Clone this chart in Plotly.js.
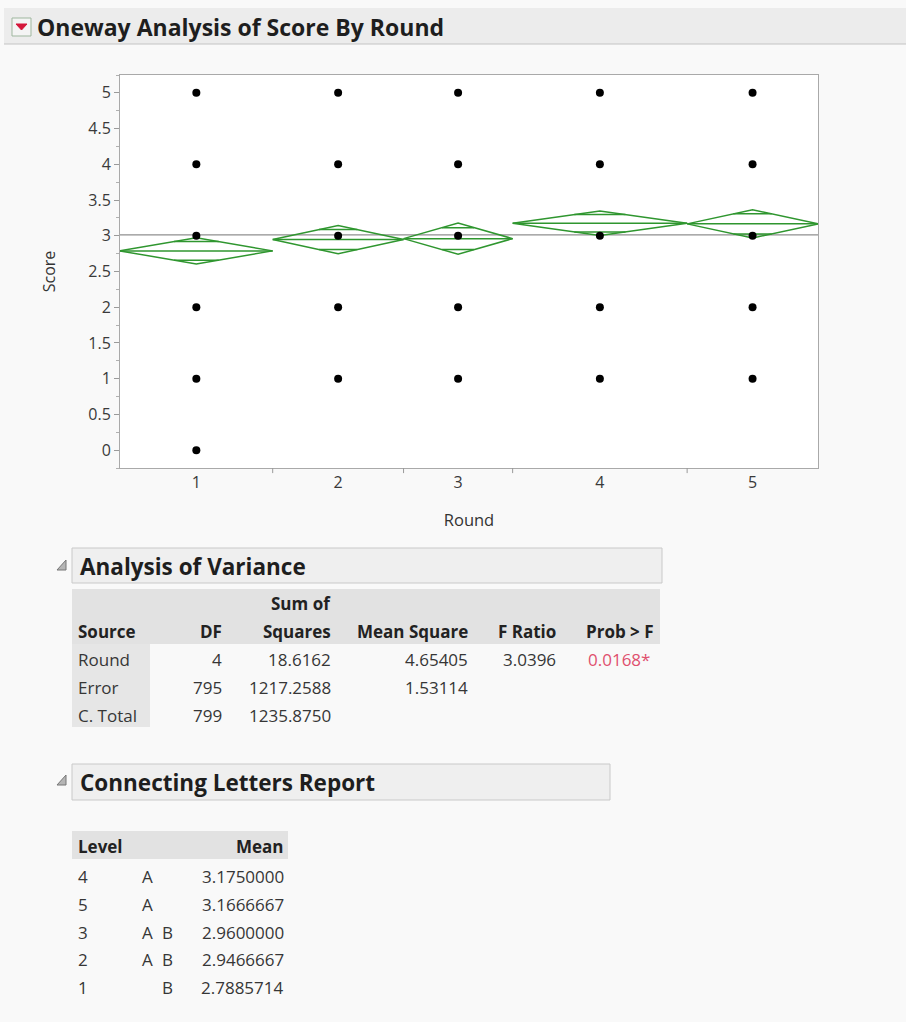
<!DOCTYPE html>
<html><head><meta charset="utf-8">
<script src="https://cdn.plot.ly/plotly-3.0.1.min.js"></script>
<style>html,body{margin:0;padding:0;background:#f9f9f9;} #chart{width:906px;height:1022px;}</style>
</head><body><div id="chart"></div>
<script>
// ---- Data ----
const rounds = ['1','2','3','4','5'];
const groupN = [175, 150, 125, 200, 150];
const groupMeans = [2.7885714, 2.9466667, 2.96, 3.175, 3.1666667];
const upper95 = [2.9722, 3.1450, 3.1773, 3.3468, 3.3650];
const lower95 = [2.6050, 2.7483, 2.7427, 3.0032, 2.9683];
const overlapUpper = [2.9184, 3.0869, 3.1136, 3.2965, 3.3069];
const overlapLower = [2.6587, 2.8064, 2.8064, 3.0536, 3.0264];
const scoresObserved = [[0,1,2,3,4,5],[1,2,3,4,5],[1,2,3,4,5],[1,2,3,4,5],[1,2,3,4,5]];
const grandMean = 3.0125;
const yTickVals = [0,0.5,1,1.5,2,2.5,3,3.5,4,4.5,5];
const yTickText = ['0','0.5','1','1.5','2','2.5','3','3.5','4','4.5','5'];

const anovaHeaders = ['Source','DF','Sum of Squares','Mean Square','F Ratio','Prob > F'];
const anovaSource = ['Round','Error','C. Total'];
const anovaDF = ['4','795','799'];
const anovaSS = ['18.6162','1217.2588','1235.8750'];
const anovaMS = ['4.65405','1.53114',''];
const anovaF = ['3.0396','',''];
const anovaP = ['0.0168*','',''];

const levelOrder = ['4','5','3','2','1'];
const letterA = ['A','A','A','A',''];
const letterB = ['','','B','B','B'];
const levelMeans = ['3.1750000','3.1666667','2.9600000','2.9466667','2.7885714'];

// ---- Geometry helpers ----
const W = 906, H = 1022, L = 120, R = 818, T = 75, B = 468;
const fx = p => (p - L) / (R - L);
const fy = p => (B - p) / (B - T);
const FONT = '"Open Sans", "Noto Sans", sans-serif';
const TXT = '#363636';
const BODY = 17;

const edges = [0];
groupN.forEach(n => edges.push(edges[edges.length-1] + n));
const centers = groupN.map((n,i) => edges[i] + n/2);

// ---- Traces ----
const ptsX = [], ptsY = [];
scoresObserved.forEach((arr,i) => arr.forEach(s => { ptsX.push(centers[i]); ptsY.push(s); }));

const dx = [], dy = [];
groupN.forEach((n,i) => {
  const l = edges[i], r = edges[i+1], c = centers[i], m = groupMeans[i];
  dx.push(l, c, r, c, l, null); dy.push(m, upper95[i], m, lower95[i], m, null);
  dx.push(l, r, null); dy.push(m, m, null);
  [overlapUpper[i], overlapLower[i]].forEach(v => {
    const frac = 1 - Math.abs(v - m) / (upper95[i] - m);
    const hw = frac * n / 2;
    dx.push(c - hw, c + hw, null); dy.push(v, v, null);
  });
});

const traces = [
  {x: [0, 800], y: [grandMean, grandMean], mode: 'lines', line: {color: '#8f8f8f', width: 1.3}, hoverinfo: 'skip', showlegend: false},
  {x: dx, y: dy, mode: 'lines', line: {color: '#2f962f', width: 1.5}, hoverinfo: 'skip', showlegend: false, connectgaps: false},
  {x: ptsX, y: ptsY, mode: 'markers', marker: {color: '#000000', size: 8}, showlegend: false}
];

// ---- Shapes & annotations ----
const shapes = [];
const ann = [];
const rect = (x0,y0,x1,y1,fill,line) => shapes.push({type:'rect', xref:'paper', yref:'paper', x0:fx(x0), x1:fx(x1), y0:fy(y1), y1:fy(y0), fillcolor:fill, line:{color: line || 'rgba(0,0,0,0)', width: line ? 1 : 0}, layer:'below'});
const text = (s, x, y, anchor, opts) => ann.push(Object.assign({text: s, xref:'paper', yref:'paper', x: fx(x), y: fy(y), xanchor: anchor, yanchor:'middle', showarrow:false, font:{family: FONT, size: BODY, color: TXT}}, opts || {}));
const tri = (x, y) => shapes.push({type:'path', xref:'paper', yref:'paper', path: `M ${fx(x)} ${fy(y+10)} L ${fx(x+9)} ${fy(y+10)} L ${fx(x+9)} ${fy(y)} Z`, fillcolor:'#b5b5b5', line:{color:'#777', width:1}});

// boundary ticks on x axis
edges.slice(1, -1).forEach(e => shapes.push({type:'line', xref:'x', yref:'paper', x0:e, x1:e, y0:0, y1:-0.013, line:{color:'#9a9a9a', width:1}}));

// Title bar
rect(4, 8, 906, 44, '#ececec');
shapes.push({type:'line', xref:'paper', yref:'paper', x0:fx(4), x1:fx(906), y0:fy(44), y1:fy(44), line:{color:'#c4c4c4', width:1}});
rect(12, 18, 31, 36, '#f4f4f4', '#9fb79f');
shapes.push({type:'path', xref:'paper', yref:'paper', path:`M ${fx(16)} ${fy(24)} L ${fx(27)} ${fy(24)} L ${fx(21.5)} ${fy(30)} Z`, fillcolor:'#d4173a', line:{color:'#d4173a', width:1}});
text('<b>Oneway Analysis of Score By Round</b>', 35, 27, 'left', {font:{family: FONT, size: 23, color:'#1e1e1e'}});

// ANOVA section
tri(57, 560);
rect(72, 548, 662, 583, '#efefef', '#c9c9c9');
text('<b>Analysis of Variance</b>', 78, 566, 'left', {font:{family: FONT, size: 22.5, color:'#1e1e1e'}});
rect(72, 589, 660, 644, '#e2e2e2');
rect(72, 644, 150, 727, '#e6e6e6');
const aRight = [null, 224, 333, 470, 558, 656];
const hdrFont = {family: FONT, size: BODY, color: '#222'};
text('<b>' + anovaHeaders[0] + '</b>', 76, 631, 'left', {font: hdrFont});
text('<b>' + anovaHeaders[1] + '</b>', aRight[1], 631, 'right', {font: hdrFont});
text('<b>Sum of</b>', aRight[2], 603, 'right', {font: hdrFont});
text('<b>Squares</b>', aRight[2], 631, 'right', {font: hdrFont});
text('<b>' + anovaHeaders[3] + '</b>', aRight[3], 631, 'right', {font: hdrFont});
text('<b>' + anovaHeaders[4] + '</b>', aRight[4], 631, 'right', {font: hdrFont});
text('<b>' + anovaHeaders[5] + '</b>', aRight[5], 631, 'right', {font: hdrFont});
const rowY = [659, 687, 715];
anovaSource.forEach((s,i) => {
  text(s, 76, rowY[i], 'left');
  text(anovaDF[i], aRight[1], rowY[i], 'right');
  text(anovaSS[i], aRight[2], rowY[i], 'right');
  if (anovaMS[i]) text(anovaMS[i], aRight[3], rowY[i], 'right');
  if (anovaF[i]) text(anovaF[i], aRight[4], rowY[i], 'right');
  if (anovaP[i]) text(anovaP[i], 652, rowY[i], 'right', {font:{family: FONT, size: BODY, color:'#e0506e'}});
});

// Connecting letters section
tri(57, 775);
rect(72, 764, 610, 800, '#efefef', '#c9c9c9');
text('<b>Connecting Letters Report</b>', 78, 782, 'left', {font:{family: FONT, size: 22.5, color:'#1e1e1e'}});
rect(72, 831, 288, 859, '#e2e2e2');
text('<b>Level</b>', 76, 846, 'left', {font: hdrFont});
text('<b>Mean</b>', 286, 846, 'right', {font: hdrFont});
const lvlY = [876, 904, 932, 959, 987];
levelOrder.forEach((lv,i) => {
  text(lv, 76, lvlY[i], 'left');
  if (letterA[i]) text(letterA[i], 147, lvlY[i], 'center');
  if (letterB[i]) text(letterB[i], 167, lvlY[i], 'center');
  text(levelMeans[i], 286, lvlY[i], 'right');
});

const layout = {
  width: W, height: H,
  margin: {l: L, r: W - R, t: T, b: H - B},
  paper_bgcolor: '#f9f9f9', plot_bgcolor: '#ffffff',
  showlegend: false,
  font: {family: FONT, color: TXT},
  xaxis: {
    range: [0, 800], tickmode: 'array', tickvals: centers, ticktext: rounds, ticks: '',
    showgrid: false, zeroline: false, showline: true, mirror: true, linecolor: '#a9a9a9', linewidth: 1,
    tickfont: {family: FONT, size: 16, color: '#3a3a3a'},
    title: {text: 'Round', font: {family: FONT, size: 16.5, color: '#333'}, standoff: 22}
  },
  yaxis: {
    range: [-0.25, 5.25], tickmode: 'array', tickvals: yTickVals, ticktext: yTickText,
    ticks: 'outside', ticklen: 5, tickcolor: '#9a9a9a',
    minor: {tickmode: 'array', tickvals: [0.25,0.75,1.25,1.75,2.25,2.75,3.25,3.75,4.25,4.75,-0.25,5.25], ticks: 'outside', ticklen: 3, tickcolor: '#b0b0b0'},
    showgrid: false, zeroline: false, showline: true, mirror: true, linecolor: '#a9a9a9', linewidth: 1,
    tickfont: {family: FONT, size: 16, color: '#3a3a3a'},
    title: {text: 'Score', font: {family: FONT, size: 16, color: '#333'}, standoff: 28}
  },
  shapes: shapes,
  annotations: ann
};

Plotly.newPlot('chart', traces, layout, {displayModeBar: false, staticPlot: true});
</script>
</body></html>
